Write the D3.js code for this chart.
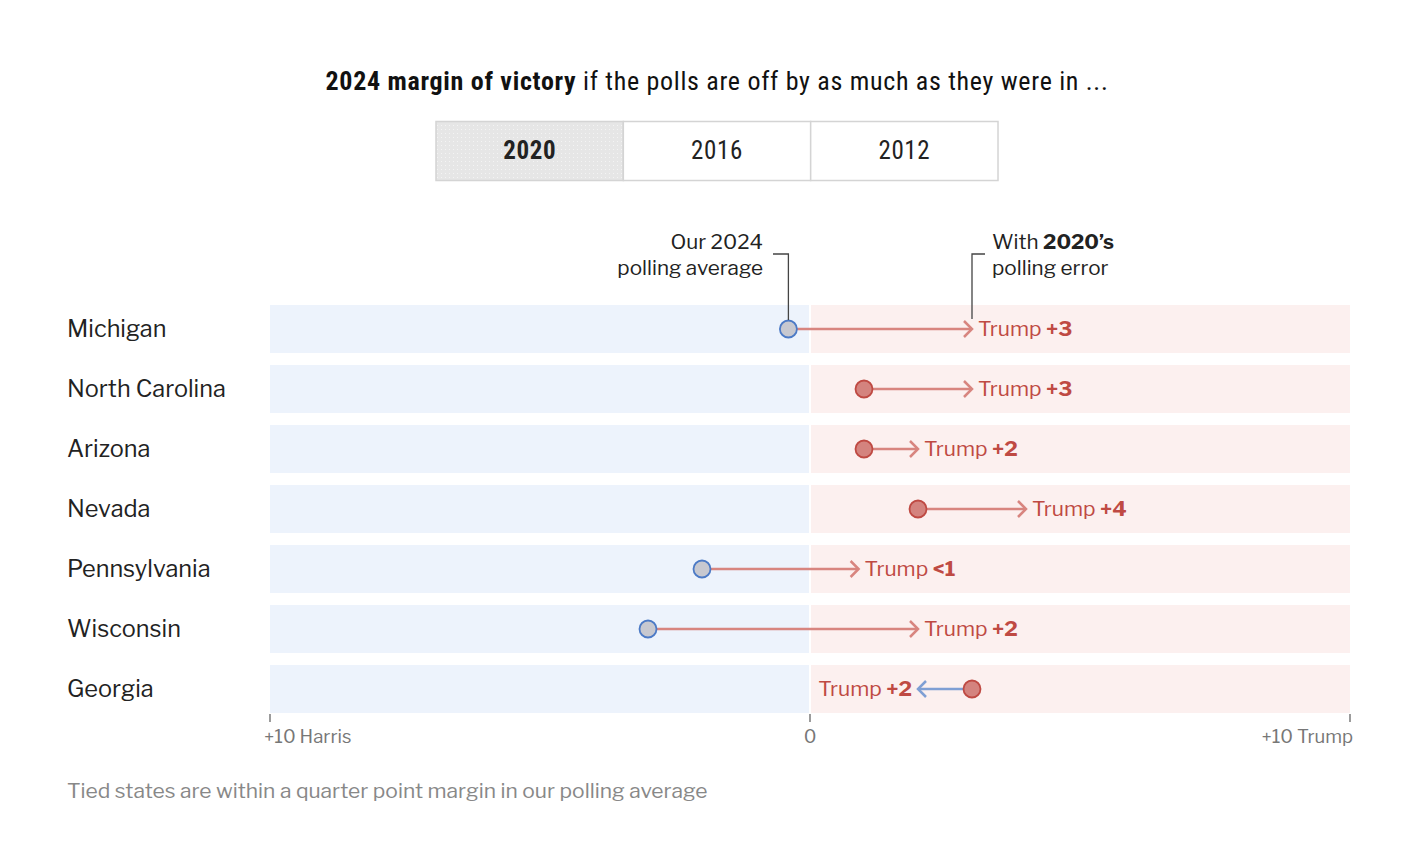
<!DOCTYPE html>
<html>
<head>
<meta charset="utf-8">
<script src="https://cdn.jsdelivr.net/npm/d3@7"></script>
<style>
body { margin: 0; background: #fff; }
text { font-family: "Libre Franklin", "Roboto", "Liberation Sans", sans-serif; }
.title { font-family: "Liberation Sans Narrow", "Roboto Condensed", "Roboto", sans-serif; }
</style>
</head>
<body>
<div id="chart"></div>
<script>
// data
var states = ["Michigan", "North Carolina", "Arizona", "Nevada", "Pennsylvania", "Wisconsin", "Georgia"];
var pollAvg = [-0.4, 1.0, 1.0, 2.0, -2.0, -3.0, 3.0];
var withError = [3.0, 3.0, 2.0, 4.0, 0.9, 2.0, 2.0];
var resultLabels = ["+3", "+3", "+2", "+4", "<1", "+2", "+2"];
var years = ["2020", "2016", "2012"];
var tickValues = [-10, 0, 10];
var tickLabels = ["+10 Harris", "0", "+10 Trump"];

var svgWidth = 1420;
var svgHeight = 867;

var svg = d3.select("#chart")
  .append("svg")
  .attr("width", svgWidth)
  .attr("height", svgHeight);

var defs = svg.append("defs");
var pat = defs.append("pattern")
  .attr("id", "dots")
  .attr("width", 4).attr("height", 4)
  .attr("patternUnits", "userSpaceOnUse");
pat.append("rect").attr("width", 4).attr("height", 4).attr("fill", "#e6e6e6");
pat.append("rect").attr("x", 1).attr("y", 1).attr("width", 1).attr("height", 1).attr("fill", "#f4f4f4");

// title
var title = svg.append("text")
  .attr("class", "title")
  .attr("x", 717)
  .attr("y", 90)
  .attr("text-anchor", "middle")
  .style("font-size", "26px")
  .style("letter-spacing", "0.7px")
  .attr("fill", "#111");
title.append("tspan").attr("font-weight", "bold").text("2024 margin of victory");
title.append("tspan").text(" if the polls are off by as much as they were in ...");

// year buttons
var btnX = d3.scaleBand().domain(years).range([436, 998]);
var btns = svg.append("g").selectAll("g")
  .data(years)
  .enter()
  .append("g");
btns.append("rect")
  .attr("x", d => btnX(d))
  .attr("y", 121.5)
  .attr("width", btnX.bandwidth())
  .attr("height", 59)
  .attr("fill", (d, i) => i === 0 ? "url(#dots)" : "#fff")
  .attr("stroke", "#d4d4d4")
  .attr("stroke-width", 1.5);
btns.append("text")
  .attr("class", "title")
  .attr("x", d => btnX(d) + btnX.bandwidth() / 2)
  .attr("y", 159)
  .attr("text-anchor", "middle")
  .style("font-size", "25px")
  .style("letter-spacing", "0.6px")
  .attr("font-weight", (d, i) => i === 0 ? "bold" : "normal")
  .attr("fill", "#222")
  .text(d => d);

// scales
var x = d3.scaleLinear().domain([-10, 10]).range([270, 1350]);
var y = d3.scaleBand().domain(states).range([299, 719]).paddingInner(0.2).paddingOuter(0.1);
var bh = y.bandwidth();

var blue = "#4c7ac6", red = "#bf4a43", lineRed = "#d8857f";

// bands
var rows = svg.append("g").selectAll("g")
  .data(states)
  .enter()
  .append("g");
rows.append("rect")
  .attr("x", x(-10)).attr("y", d => y(d))
  .attr("width", x(0) - x(-10) - 1).attr("height", bh)
  .attr("fill", "#edf3fc");
rows.append("rect")
  .attr("x", x(0) + 1).attr("y", d => y(d))
  .attr("width", x(10) - x(0) - 1).attr("height", bh)
  .attr("fill", "#fcf0ef");
rows.append("text")
  .attr("x", 67)
  .attr("y", d => y(d) + bh / 2 + 8)
  .style("font-size", "23.5px")
  .attr("fill", "#222")
  .text(d => d);

// arrows
var data = states.map((s, i) => ({ s: s, a: pollAvg[i], b: withError[i], lab: resultLabels[i] }));
var marks = svg.append("g").selectAll("g")
  .data(data)
  .enter()
  .append("g");
marks.append("line")
  .attr("x1", d => x(d.a)).attr("x2", d => x(d.b) + (d.b > d.a ? -1 : 1))
  .attr("y1", d => y(d.s) + bh / 2).attr("y2", d => y(d.s) + bh / 2)
  .attr("stroke", d => d.b > d.a ? lineRed : "#7f9fd4")
  .attr("stroke-width", 2.5);
marks.append("path")
  .attr("d", function(d) {
    var tx = x(d.b), cy = y(d.s) + bh / 2, dir = d.b > d.a ? -1 : 1;
    return "M" + (tx + dir * 8) + "," + (cy - 8) + "L" + tx + "," + cy + "L" + (tx + dir * 8) + "," + (cy + 8);
  })
  .attr("fill", "none")
  .attr("stroke", d => d.b > d.a ? lineRed : "#7f9fd4")
  .attr("stroke-width", 2.5);
marks.append("circle")
  .attr("cx", d => x(d.a)).attr("cy", d => y(d.s) + bh / 2)
  .attr("r", 8.5)
  .attr("fill", d => d.a > 0 ? "#d4837e" : "#c7c8d0")
  .attr("stroke", d => d.a > 0 ? red : blue)
  .attr("stroke-width", 1.8);
var lbl = marks.append("text")
  .attr("x", d => d.b > d.a ? x(d.b) + 6 : x(d.b) - 6)
  .attr("y", d => y(d.s) + bh / 2 + 7)
  .attr("text-anchor", d => d.b > d.a ? "start" : "end")
  .style("font-size", "21px")
  .attr("fill", red);
lbl.append("tspan").text("Trump ");
lbl.append("tspan").attr("font-weight", "bold").text(d => d.lab);

// annotations
var y0 = y(states[0]) + bh / 2;
var ann = svg.append("g");
ann.append("path")
  .attr("d", "M773,254H" + x(pollAvg[0]) + "V" + (y0 - 9))
  .attr("fill", "none").attr("stroke", "#444").attr("stroke-width", 1.3);
ann.append("path")
  .attr("d", "M985,254H" + x(withError[0]) + "V" + (y0 - 10))
  .attr("fill", "none").attr("stroke", "#444").attr("stroke-width", 1.3);
var a1 = ann.append("text").attr("x", 763).attr("text-anchor", "end").style("font-size", "20.7px").attr("fill", "#222");
a1.append("tspan").attr("x", 763).attr("y", 249).text("Our 2024");
a1.append("tspan").attr("x", 763).attr("y", 275).text("polling average");
var a2 = ann.append("text").style("font-size", "20.7px").attr("fill", "#222");
var l1 = a2.append("tspan").attr("x", 992).attr("y", 249);
l1.append("tspan").text("With ");
l1.append("tspan").attr("font-weight", "bold").text("2020\u2019s");
a2.append("tspan").attr("x", 992).attr("y", 275).text("polling error");

// axis
var axisG = svg.append("g").attr("transform", "translate(0,714)");
axisG.selectAll("line")
  .data(tickValues)
  .enter()
  .append("line")
  .attr("x1", d => x(d)).attr("x2", d => x(d))
  .attr("y1", 0).attr("y2", 8)
  .attr("stroke", "#666").attr("stroke-width", 1.3);
axisG.selectAll("text")
  .data(tickValues)
  .enter()
  .append("text")
  .attr("x", (d, i) => i === 0 ? x(d) - 6 : (i === 2 ? x(d) + 3 : x(d)))
  .attr("y", 29)
  .attr("text-anchor", (d, i) => i === 0 ? "start" : (i === 2 ? "end" : "middle"))
  .style("font-size", "18.5px")
  .attr("fill", "#777")
  .text((d, i) => tickLabels[i]);

// note
svg.append("text")
  .attr("x", 67).attr("y", 798)
  .style("font-size", "21px")
  .attr("fill", "#888")
  .text("Tied states are within a quarter point margin in our polling average");
</script>
</body>
</html>
